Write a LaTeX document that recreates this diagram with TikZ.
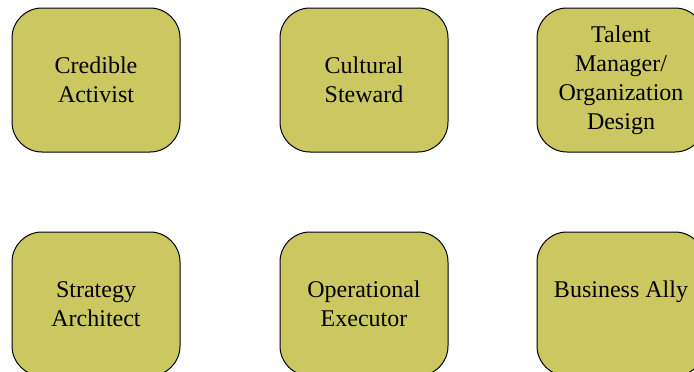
\documentclass[tikz,border=0pt]{standalone}
\usepackage{fontspec}
\setmainfont{Liberation Serif}
\definecolor{rolefill}{RGB}{203,200,97}
\tikzset{
  role/.style={draw=black, line width=1pt, fill=rolefill, rounded corners=30pt,
    minimum width=168pt, minimum height=144pt, align=center, inner sep=0pt,
    font=\rmfamily\fontsize{24}{29}\selectfont},
}
\begin{document}
\begin{tikzpicture}[x=1pt,y=-1pt]
			\useasboundingbox (0,0) rectangle (694,372);
			\clip (0,0) rectangle (694,372);
			% top row
			\node [role] (activist) at (96,80) {Credible\\Activist};
			\node [role] (steward) at (364,80) {Cultural\\Steward};
			\node [role] (talent) at (621,80) {Talent\\Manager/\\Organization\\Design};
			% bottom row
			\node [role] (architect) at (96,304) {Strategy\\Architect};
			\node [role] (executor) at (364,304) {Operational\\Executor};
			\node [role] (ally) at (621,304) {Business Ally\\\mbox{}};
		\end{tikzpicture}
\end{document}
